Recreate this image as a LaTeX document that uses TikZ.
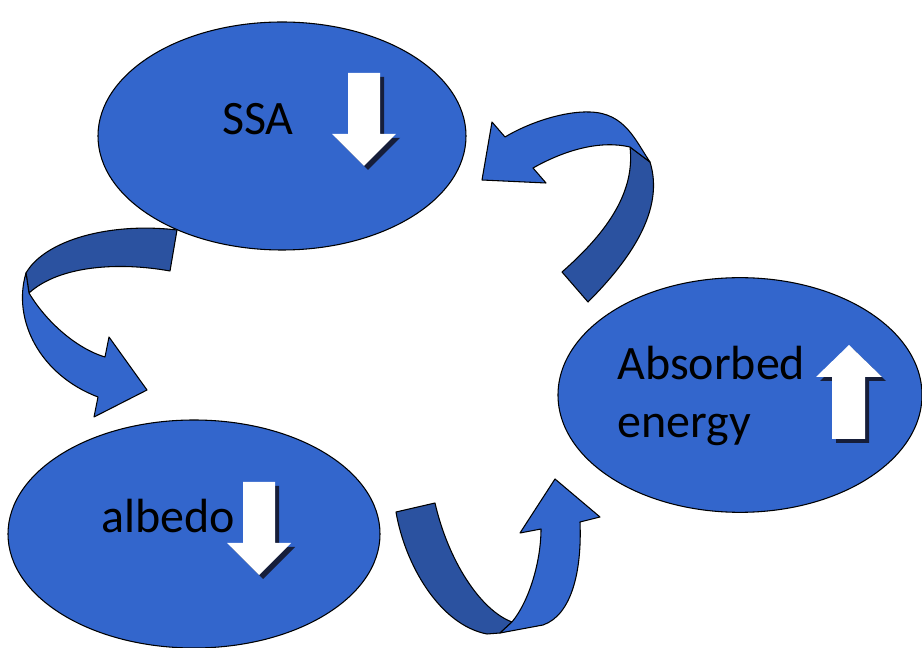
\documentclass[tikz,border=0pt]{standalone}
\usepackage{fontspec}
\setmainfont{Carlito}
\usetikzlibrary{shapes.geometric}
\definecolor{blobblue}{RGB}{51,102,204}
\definecolor{backblue}{RGB}{43,82,160}
\definecolor{arrowshadow}{RGB}{22,30,58}
\begin{document}
\begin{tikzpicture}[x=0.75pt, y=-0.75pt,
    blob/.style={ellipse, draw, thick, fill=blobblue, inner sep=0pt},
    word/.style={anchor=base west, inner sep=0pt, font=\fontsize{36}{43.5}\selectfont},
    ribbon/.style={draw, thick, line join=round, fill=blobblue},
    ribbonback/.style={draw, thick, line join=round, fill=backblue}]
    \useasboundingbox (0,0) rectangle (922,648);
    % the three blobs
    \node(ssa) [blob, minimum width = 276pt, minimum height = 171pt] at (282,136) {};
    \node(alb) [blob, minimum width = 279pt, minimum height = 171pt] at (194,534) {};
    \node(abs) [blob, minimum width = 273pt, minimum height = 176pt] at (740,395) {};
    \node(ssatxt) [word] at (222,135) {SSA};
    \node(albtxt) [word] at (101,533) {albedo};
    \node(abstxt) [word, align=left] at (617,438) {Absorbed\\energy};
    % white arrows with shadow
    \def\dn#1#2{%
      \fill[arrowshadow] (#1+4,#2+4) -- ++(32,0) -- ++(0,61) -- ++(16,0) -- ++(-32,32) -- ++(-32,-32) -- ++(16,0) -- cycle;
      \fill[white] (#1,#2) -- ++(32,0) -- ++(0,61) -- ++(16,0) -- ++(-32,32) -- ++(-32,-32) -- ++(16,0) -- cycle;}
    \def\up#1#2{%
      \fill[arrowshadow] (#1+4,#2+4) -- ++(33,32) -- ++(-17,0) -- ++(0,62) -- ++(-33,0) -- ++(0,-62) -- ++(-16,0) -- cycle;
      \fill[white] (#1,#2) -- ++(33,32) -- ++(-17,0) -- ++(0,62) -- ++(-33,0) -- ++(0,-62) -- ++(-16,0) -- cycle;}
    \dn{348}{73}
    \dn{243}{482}
    \up{849}{345}
    % curved arrow ssa -> albedo
    \path[ribbonback] (177,230) .. controls (110,222) and (45,240) .. (26,273)
        -- (29,293) .. controls (60,265) and (120,262) .. (170,271) -- cycle;
    \path[ribbon] (26,273) .. controls (12,320) and (40,375) .. (98,397)
        -- (94,417) -- (147,390) -- (109,337) -- (105,357)
        .. controls (75,348) and (45,320) .. (29,293) -- cycle;
    % curved arrow albedo -> absorbed
    \path[ribbonback] (396,512) -- (435,503) .. controls (448,560) and (480,610) .. (512,622)
        -- (500,633) -- (487,634) .. controls (440,625) and (405,565) .. (396,512) -- cycle;
    \path[ribbon] (500,633) -- (512,622) .. controls (530,600) and (541,560) .. (541,529)
        -- (520,533) -- (555,479) -- (600,517) -- (580,522)
        .. controls (582,570) and (572,615) .. (543,625) -- cycle;
    % curved arrow absorbed -> ssa
    \path[ribbonback] (562,272) -- (588,302) .. controls (630,260) and (665,210) .. (650,162)
        -- (630,147) .. controls (635,190) and (610,230) .. (562,272) -- cycle;
    \path[ribbon] (505,137) -- (492,122) -- (482,180) -- (546,183) -- (533,168)
        .. controls (565,150) and (600,140) .. (630,147) -- (650,162)
        .. controls (635,140) and (625,113) .. (590,112)
        .. controls (565,111) and (530,122) .. (505,137) -- cycle;
\end{tikzpicture}
\end{document}
